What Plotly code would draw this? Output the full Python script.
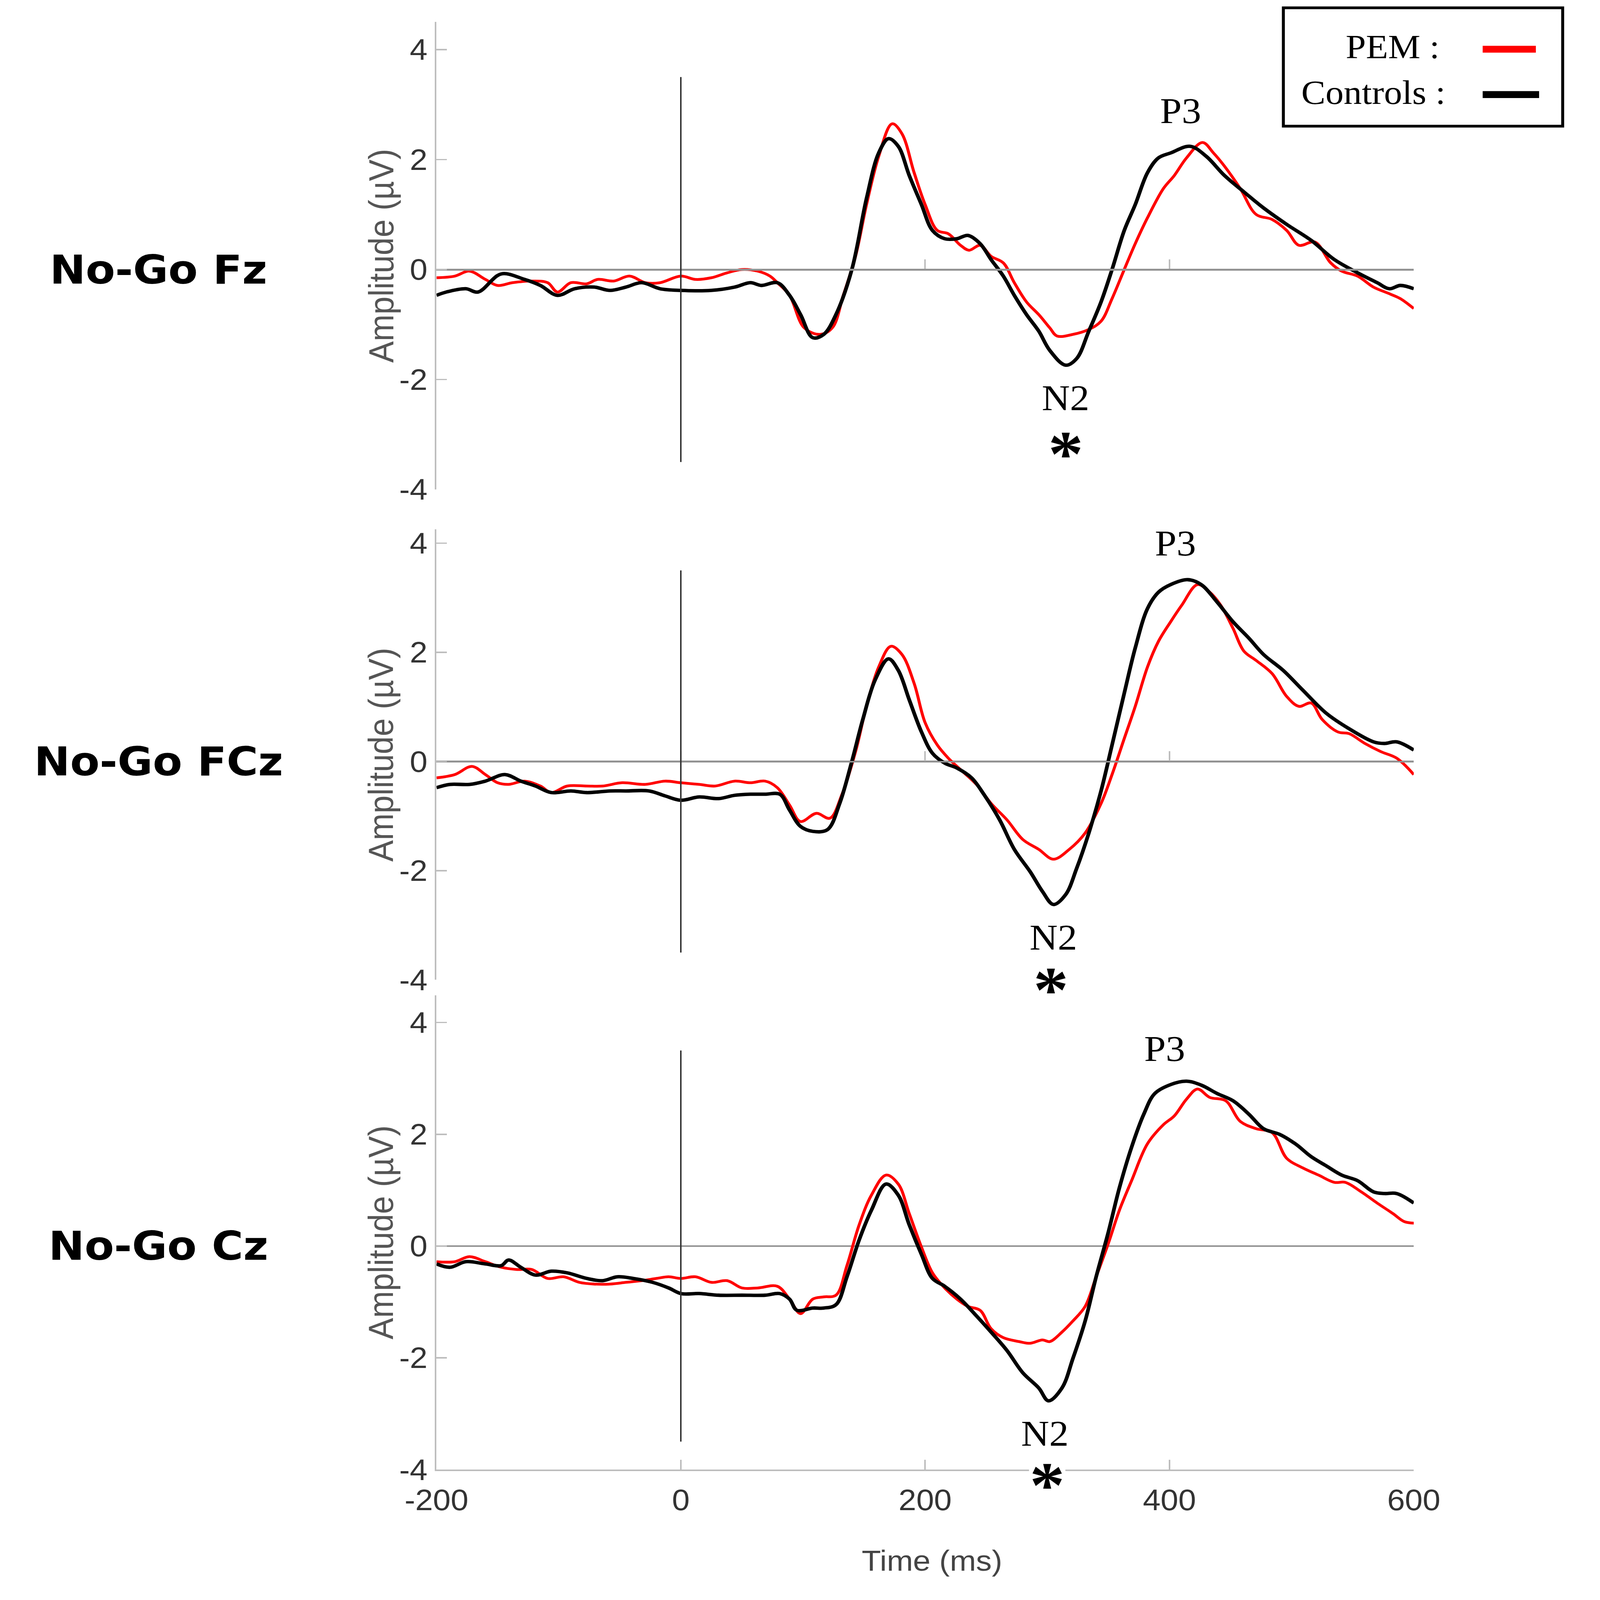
import plotly.graph_objects as go

# ---- data (time in ms, amplitude in µV) ----

# No-Go Fz
fz_ctrl_t = [-200, -192, -176, -166, -147, -128, -115, -101, -87, -71,
             -58, -45, -32, -17, 0, 25, 44, 57, 66, 79,
             89, 98, 108, 117, 127, 140, 152, 162, 170, 178,
             187, 197, 206, 216, 226, 235, 245, 254, 264, 273,
             283, 293, 302, 315, 324, 334, 344, 353, 363, 372,
             382, 391, 401, 417, 430, 445, 461, 477, 496, 516,
             535, 554, 570, 580, 589, 600]
fz_ctrl = [-0.47, -0.41, -0.35, -0.41, -0.08, -0.18, -0.29, -0.47, -0.35, -0.32,
           -0.38, -0.32, -0.24, -0.35, -0.38, -0.38, -0.32, -0.24, -0.29, -0.24,
           -0.47, -0.82, -1.24, -1.18, -0.82, 0.0, 1.29, 2.12, 2.38, 2.24,
           1.71, 1.18, 0.71, 0.56, 0.56, 0.62, 0.47, 0.18, -0.12, -0.47,
           -0.82, -1.12, -1.47, -1.74, -1.62, -1.12, -0.59, 0.0, 0.71, 1.18,
           1.76, 2.03, 2.12, 2.24, 2.06, 1.71, 1.41, 1.12, 0.82, 0.53,
           0.18, -0.06, -0.24, -0.35, -0.29, -0.35]

fz_pem_t = [-200, -185, -173, -160, -150, -138, -122, -109, -101, -90,
            -77, -68, -55, -42, -29, -17, 0, 12, 25, 38,
            50, 63, 73, 79, 89, 101, 114, 124, 133, 143,
            152, 162, 173, 181, 191, 200, 210, 219, 229, 236,
            245, 254, 264, 273, 283, 293, 302, 308, 321, 334,
            344, 353, 363, 372, 382, 395, 404, 414, 427, 436,
            445, 458, 471, 484, 496, 506, 519, 532, 541, 554,
            567, 580, 589, 600]
fz_pem = [-0.15, -0.12, -0.03, -0.18, -0.29, -0.24, -0.21, -0.24, -0.41, -0.24,
          -0.26, -0.18, -0.21, -0.12, -0.24, -0.24, -0.12, -0.18, -0.15, -0.06,
          0.0, -0.03, -0.12, -0.24, -0.47, -1.06, -1.18, -1.06, -0.47, 0.24,
          1.18, 2.06, 2.65, 2.47, 1.76, 1.18, 0.71, 0.65, 0.44, 0.35,
          0.44, 0.24, 0.12, -0.24, -0.59, -0.82, -1.06, -1.21, -1.18, -1.09,
          -0.94, -0.53, 0.0, 0.47, 0.94, 1.47, 1.71, 2.03, 2.31, 2.12,
          1.88, 1.47, 1.0, 0.91, 0.71, 0.44, 0.5, 0.12, -0.03, -0.12,
          -0.32, -0.44, -0.53, -0.71]

# No-Go FCz
fcz_ctrl_t = [-200, -189, -173, -160, -144, -131, -119, -106, -90, -77,
              -58, -45, -26, -13, 0, 15, 31, 44, 57, 69,
              81, 89, 98, 108, 120, 130, 140, 149, 159, 170,
              178, 187, 197, 206, 216, 226, 238, 248, 261, 273,
              286, 296, 305, 315, 324, 334, 344, 353, 363, 372,
              382, 391, 401, 415, 426, 439, 452, 465, 477, 493,
              509, 528, 547, 567, 576, 586, 600]
fcz_ctrl = [-0.48, -0.42, -0.42, -0.36, -0.24, -0.36, -0.45, -0.57, -0.54, -0.57,
            -0.54, -0.54, -0.54, -0.63, -0.71, -0.65, -0.68, -0.62, -0.6, -0.6,
            -0.6, -0.89, -1.19, -1.28, -1.25, -0.77, 0.0, 0.77, 1.49, 1.88,
            1.67, 1.13, 0.54, 0.15, -0.03, -0.12, -0.3, -0.6, -1.07, -1.61,
            -2.02, -2.38, -2.62, -2.44, -1.96, -1.31, -0.54, 0.3, 1.25, 2.08,
            2.8, 3.1, 3.24, 3.33, 3.24, 2.92, 2.56, 2.26, 1.96, 1.67,
            1.31, 0.89, 0.6, 0.36, 0.33, 0.36, 0.21]

fcz_pem_t = [-200, -185, -171, -160, -150, -141, -128, -115, -106, -93,
             -77, -64, -48, -29, -13, 0, 15, 28, 44, 57,
             69, 79, 89, 98, 111, 122, 132, 143, 152, 162,
             172, 181, 191, 200, 210, 219, 229, 242, 254, 267,
             280, 293, 305, 318, 331, 344, 353, 363, 372, 382,
             391, 401, 410, 423, 433, 442, 452, 461, 471, 484,
             496, 506, 516, 525, 538, 547, 560, 573, 586, 600]
fcz_pem = [-0.3, -0.24, -0.09, -0.24, -0.39, -0.42, -0.36, -0.45, -0.57, -0.45,
           -0.45, -0.45, -0.39, -0.42, -0.36, -0.39, -0.42, -0.45, -0.36, -0.39,
           -0.36, -0.48, -0.8, -1.1, -0.95, -1.04, -0.6, 0.18, 1.01, 1.73,
           2.11, 1.96, 1.43, 0.71, 0.3, 0.06, -0.15, -0.42, -0.77, -1.07,
           -1.43, -1.61, -1.79, -1.61, -1.31, -0.77, -0.24, 0.42, 1.01, 1.73,
           2.2, 2.56, 2.86, 3.24, 3.1, 2.86, 2.44, 2.02, 1.85, 1.61,
           1.19, 1.01, 1.07, 0.77, 0.54, 0.51, 0.33, 0.18, 0.06, -0.24]

# No-Go Cz
cz_ctrl_t = [-200, -189, -176, -160, -147, -141, -131, -119, -106, -93,
             -77, -64, -52, -39, -23, -10, 0, 15, 31, 50,
             69, 81, 89, 95, 108, 117, 127, 136, 146, 156,
             168, 178, 187, 197, 206, 216, 229, 242, 254, 267,
             280, 293, 301, 312, 321, 331, 340, 350, 359, 369,
             379, 388, 401, 414, 426, 439, 452, 465, 477, 490,
             503, 516, 528, 541, 554, 567, 576, 586, 600]
cz_ctrl = [-0.32, -0.38, -0.28, -0.32, -0.35, -0.25, -0.38, -0.52, -0.45, -0.48,
           -0.58, -0.62, -0.55, -0.58, -0.65, -0.75, -0.85, -0.85, -0.88, -0.88,
           -0.88, -0.85, -0.95, -1.15, -1.11, -1.11, -1.05, -0.55, 0.11, 0.64,
           1.11, 0.91, 0.38, -0.15, -0.58, -0.72, -0.95, -1.25, -1.54, -1.87,
           -2.27, -2.54, -2.77, -2.54, -2.01, -1.34, -0.55, 0.25, 1.04, 1.77,
           2.36, 2.73, 2.89, 2.95, 2.88, 2.73, 2.6, 2.36, 2.1, 2.0,
           1.83, 1.6, 1.44, 1.27, 1.17, 0.97, 0.94, 0.94, 0.77]

cz_pem_t = [-200, -185, -173, -160, -147, -134, -122, -109, -96, -83,
            -71, -58, -45, -32, -20, -10, 0, 12, 25, 38,
            50, 63, 79, 89, 98, 108, 117, 127, 136, 146,
            156, 168, 178, 187, 197, 206, 216, 226, 235, 245,
            254, 264, 277, 286, 296, 302, 312, 321, 331, 340,
            350, 359, 369, 382, 395, 404, 414, 423, 433, 446,
            458, 471, 484, 496, 509, 522, 535, 544, 557, 570,
            583, 592, 600]
cz_pem = [-0.28, -0.28, -0.19, -0.28, -0.38, -0.42, -0.42, -0.58, -0.55, -0.65,
          -0.68, -0.68, -0.65, -0.62, -0.58, -0.55, -0.58, -0.55, -0.65, -0.62,
          -0.75, -0.75, -0.72, -0.95, -1.21, -0.95, -0.91, -0.88, -0.35, 0.38,
          0.91, 1.27, 1.11, 0.58, -0.02, -0.48, -0.75, -0.95, -1.08, -1.15,
          -1.48, -1.64, -1.71, -1.74, -1.68, -1.71, -1.54, -1.34, -1.08, -0.55,
          0.05, 0.64, 1.17, 1.83, 2.17, 2.33, 2.63, 2.81, 2.66, 2.6,
          2.23, 2.1, 2.03, 1.57, 1.4, 1.27, 1.14, 1.14, 0.97, 0.77,
          0.58, 0.44, 0.41]

panel_labels = ["No-Go Fz", "No-Go FCz", "No-Go Cz"]
x_ticks = [-200, 0, 200, 400, 600]
x_ticktext = ["-200", "0", "200", "400", "600"]
y_ticks = [-4, -2, 0, 2, 4]
y_ticktext = ["-4", "-2", "0", "2", "4"]

# peak label positions (ms, µV)
p3_pos = [(409, 2.88), (405, 4.0), (396, 3.53)]
n2_pos = [(315, -2.34), (305, -3.22), (298, -3.35)]
star_pos = [(315, -3.05), (303, -3.88), (300, -3.98)]

# ---- layout geometry ----
W, H = 4317, 4661
x_dom = [0.2625, 0.8965]
y_doms = [[0.6921, 0.9878], [0.3819, 0.6668], [0.0721, 0.3722]]
y_tops = [4.5, 4.25, 4.49]

RED = "#ff0000"
BLACK = "#000000"
AXIS_GREY = "#bdbdbd"
ZERO_GREY = "#939393"
SANS = "Liberation Sans, Arial, sans-serif"
SERIF = "Liberation Serif, Times New Roman, serif"

series = [
    (fz_pem_t, fz_pem, fz_ctrl_t, fz_ctrl),
    (fcz_pem_t, fcz_pem, fcz_ctrl_t, fcz_ctrl),
    (cz_pem_t, cz_pem, cz_ctrl_t, cz_ctrl),
]

fig = go.Figure()
annotations = []
shapes = []

for i, (pt, pv, ct, cv) in enumerate(series):
    n = "" if i == 0 else str(i + 1)
    xa, ya = "x" + n, "y" + n
    fig.add_trace(go.Scatter(x=pt, y=pv, xaxis=xa, yaxis=ya, mode="lines",
                             name="PEM", showlegend=False,
                             line=dict(color=RED, width=8, shape="spline", smoothing=1.0)))
    fig.add_trace(go.Scatter(x=ct, y=cv, xaxis=xa, yaxis=ya, mode="lines",
                             name="Controls", showlegend=False,
                             line=dict(color=BLACK, width=10, shape="spline", smoothing=1.0)))

    d0, d1 = y_doms[i]
    top = y_tops[i]
    zero_pos = d0 + (0 - (-4)) / (top + 4) * (d1 - d0)
    last = i == 2

    xaxis = dict(domain=x_dom, range=[-200, 600], tickvals=x_ticks, ticktext=x_ticktext,
                 ticks="inside", ticklen=28, tickwidth=4, tickcolor=AXIS_GREY,
                 showline=True, linecolor=AXIS_GREY if last else ZERO_GREY, linewidth=5,
                 showgrid=False, zeroline=False, showticklabels=last,
                 tickfont=dict(family=SANS, size=86, color="#333333"),
                 ticklabelstandoff=10)
    if last:
        xaxis["anchor"] = ya
    else:
        xaxis["anchor"] = "free"
        xaxis["position"] = zero_pos
    yaxis = dict(domain=y_doms[i], range=[-4, top], anchor=xa,
                 tickvals=y_ticks, ticktext=y_ticktext,
                 ticks="inside", ticklen=28, tickwidth=4, tickcolor=AXIS_GREY,
                 showline=True, linecolor=AXIS_GREY, linewidth=5,
                 showgrid=False, zeroline=True, zerolinecolor=ZERO_GREY, zerolinewidth=5,
                 tickfont=dict(family=SANS, size=86, color="#333333"),
                 ticklabelstandoff=2)
    fig.update_layout(**{"xaxis" + n: xaxis, "yaxis" + n: yaxis})

    # stimulus onset line
    shapes.append(dict(type="line", xref=xa, yref=ya, x0=0, x1=0, y0=-3.5, y1=3.5,
                       line=dict(color="#333333", width=4)))

    # y axis title
    annotations.append(dict(text="Amplitude (µV)", textangle=-90,
                            xref="paper", x=0.2265, xanchor="center",
                            yref=ya + " domain", y=0.5, yanchor="middle", showarrow=False,
                            font=dict(family=SANS, size=94, color="#555555")))
    # panel label
    annotations.append(dict(text="<b>" + panel_labels[i] + "</b>",
                            xref="paper", x=0.0822, xanchor="center",
                            yref=ya, y=0, yanchor="middle", showarrow=False,
                            font=dict(family="DejaVu Sans, Verdana, sans-serif", size=116,
                                      color="#000000")))
    # component labels
    annotations.append(dict(text="P3", xref=xa, yref=ya, x=p3_pos[i][0], y=p3_pos[i][1],
                            xanchor="center", yanchor="middle", showarrow=False,
                            font=dict(family=SERIF, size=105, color="#000000")))
    annotations.append(dict(text="N2", xref=xa, yref=ya, x=n2_pos[i][0], y=n2_pos[i][1],
                            xanchor="center", yanchor="middle", showarrow=False,
                            font=dict(family=SERIF, size=105, color="#000000")))
    annotations.append(dict(text="<b>*</b>", xref=xa, yref=ya,
                            x=star_pos[i][0], y=star_pos[i][1],
                            xanchor="center", yanchor="middle", showarrow=False, yshift=-48,
                            bgcolor="white" if last else None,
                            font=dict(family=SERIF, size=190, color="#000000")))

# x axis title
annotations.append(dict(text="Time (ms)", xref="paper", x=0.584, xanchor="center",
                        yref="paper", y=0.0144, yanchor="middle", showarrow=False,
                        font=dict(family=SANS, size=85, color="#444444")))

# legend box drawn by hand (text on the left, line sample on the right)
shapes.append(dict(type="rect", xref="paper", yref="paper", x0=0.8119, x1=0.9931,
                   y0=0.9219, y1=0.9968, line=dict(color="#000000", width=8),
                   fillcolor="white"))
shapes.append(dict(type="line", xref="paper", yref="paper", x0=0.9412, x1=0.9757,
                   y0=0.9706, y1=0.9706, line=dict(color=RED, width=20)))
shapes.append(dict(type="line", xref="paper", yref="paper", x0=0.9412, x1=0.9778,
                   y0=0.9419, y1=0.9419, line=dict(color=BLACK, width=20)))
annotations.append(dict(text="PEM :", xref="paper", x=0.9136, xanchor="right",
                        yref="paper", y=0.9720, yanchor="middle", showarrow=False,
                        font=dict(family=SERIF, size=98, color="#000000")))
annotations.append(dict(text="Controls :", xref="paper", x=0.9175, xanchor="right",
                        yref="paper", y=0.9431, yanchor="middle", showarrow=False,
                        font=dict(family=SERIF, size=98, color="#000000")))

fig.update_layout(width=W, height=H, autosize=False,
                  margin=dict(l=0, r=0, t=0, b=0),
                  paper_bgcolor="white", plot_bgcolor="white",
                  showlegend=False, annotations=annotations, shapes=shapes)

# drop the page margin and fit the figure into the window if the window is smaller
fit_js = """
document.body.style.margin = '0';
document.documentElement.style.overflow = 'hidden';
document.body.style.overflow = 'hidden';
var gd = document.getElementById('{plot_id}');
var sx = Math.min(1, window.innerWidth / %d);
var sy = Math.min(1, window.innerHeight / %d);
gd.style.transformOrigin = '0 0';
gd.style.transform = 'scale(' + sx + ',' + sy + ')';
""" % (W, H)

fig.write_html("out.html", post_script=fit_js, config={"displayModeBar": False})
